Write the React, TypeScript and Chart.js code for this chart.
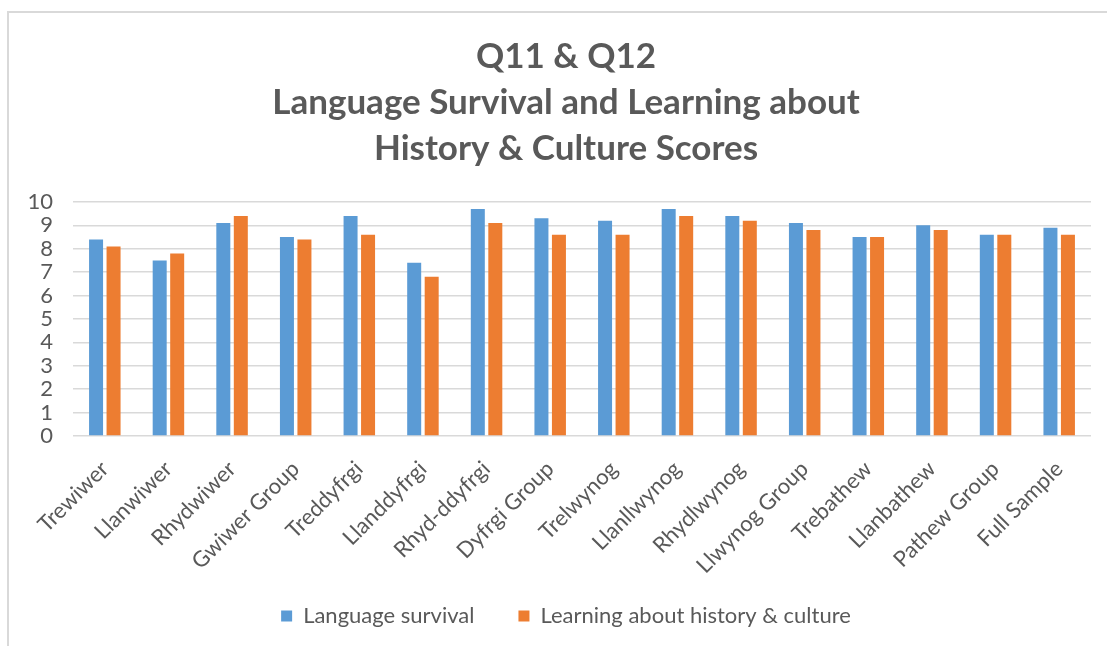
import React, { useEffect, useRef } from "react";
import { Chart, registerables } from "chart.js";

Chart.register(...registerables);

const categories = [
  "Trewiwer",
  "Llanwiwer",
  "Rhydwiwer",
  "Gwiwer Group",
  "Treddyfrgi",
  "Llanddyfrgi",
  "Rhyd-ddyfrgi",
  "Dyfrgi Group",
  "Trelwynog",
  "Llanllwynog",
  "Rhydlwynog",
  "Llwynog Group",
  "Trebathew",
  "Llanbathew",
  "Pathew Group",
  "Full Sample",
];

const languageSurvival = [8.4, 7.5, 9.1, 8.5, 9.4, 7.4, 9.7, 9.3, 9.2, 9.7, 9.4, 9.1, 8.5, 9.0, 8.6, 8.9];
const learningHistory = [8.1, 7.8, 9.4, 8.4, 8.6, 6.8, 9.1, 8.6, 8.6, 9.4, 9.2, 8.8, 8.5, 8.8, 8.6, 8.6];

const seriesNames = ["Language survival", "Learning about history & culture"];
const titleLines = ["Q11 & Q12", "Language Survival and Learning about", "History & Culture Scores"];
const yTicks = [0, 1, 2, 3, 4, 5, 6, 7, 8, 9, 10];

const FONT = "Lato, 'Open Sans', sans-serif";
const TEXT = "#595959";

const noClip = (scale: any) => {
  scale._computeLabelArea = () => undefined;
};

export default function App() {
  const ref = useRef<HTMLCanvasElement | null>(null);

  useEffect(() => {
    if (!ref.current) return;
    const chart = new Chart(ref.current, {
      type: "bar",
      data: {
        labels: categories,
        datasets: [
          {
            label: seriesNames[0],
            data: languageSurvival,
            backgroundColor: "#5B9BD5",
            categoryPercentage: 0.55,
            barPercentage: 0.8,
          },
          {
            label: seriesNames[1],
            data: learningHistory,
            backgroundColor: "#ED7D31",
            categoryPercentage: 0.55,
            barPercentage: 0.8,
          },
        ],
      },
      options: {
        responsive: false,
        animation: false,
        layout: { padding: { left: 41, right: 39, top: 0, bottom: 9 } },
        plugins: {
          title: {
            display: true,
            text: titleLines,
            color: TEXT,
            font: { family: FONT, size: 35, weight: "bold", lineHeight: 1.314 },
            padding: { top: 34, bottom: 30 },
          },
          legend: {
            position: "bottom",
            labels: {
              boxWidth: 11,
              boxHeight: 11,
              color: TEXT,
              font: { family: FONT, size: 22 },
              padding: 44,
            },
          },
          tooltip: { enabled: false },
        },
        scales: {
          x: {
            grid: { display: false },
            border: { display: false },
            ticks: {
              color: TEXT,
              font: { family: FONT, size: 22 },
              minRotation: 45,
              maxRotation: 45,
              autoSkip: false,
              padding: 12,
            },
            afterFit: (scale: any) => {
              scale.height = 125;
              noClip(scale);
            },
          },
          y: {
            min: yTicks[0],
            max: yTicks[yTicks.length - 1],
            grid: { color: "#d9d9d9", lineWidth: 1.5, drawTicks: false },
            border: { display: false },
            ticks: {
              stepSize: 1,
              autoSkip: false,
              color: TEXT,
              font: { family: FONT, size: 22 },
              padding: 20,
            },
            afterFit: (scale: any) => {
              scale.width = 32;
              noClip(scale);
            },
          },
        },
      },
    });
    return () => chart.destroy();
  }, []);

  return (
    <div
      style={{
        position: "absolute",
        left: 0,
        top: 0,
        width: 1107,
        height: 646,
        overflow: "hidden",
        background: "#fff",
      }}
    >
      <div
        style={{
          position: "absolute",
          left: 7,
          top: 11,
          width: 1200,
          height: 700,
          borderLeft: "2px solid #d9d9d9",
          borderTop: "2px solid #d9d9d9",
        }}
      />
      <canvas
        ref={ref}
        width={1130}
        height={646}
        style={{ position: "absolute", left: 0, top: 0, width: 1130, height: 646 }}
      />
    </div>
  );
}
